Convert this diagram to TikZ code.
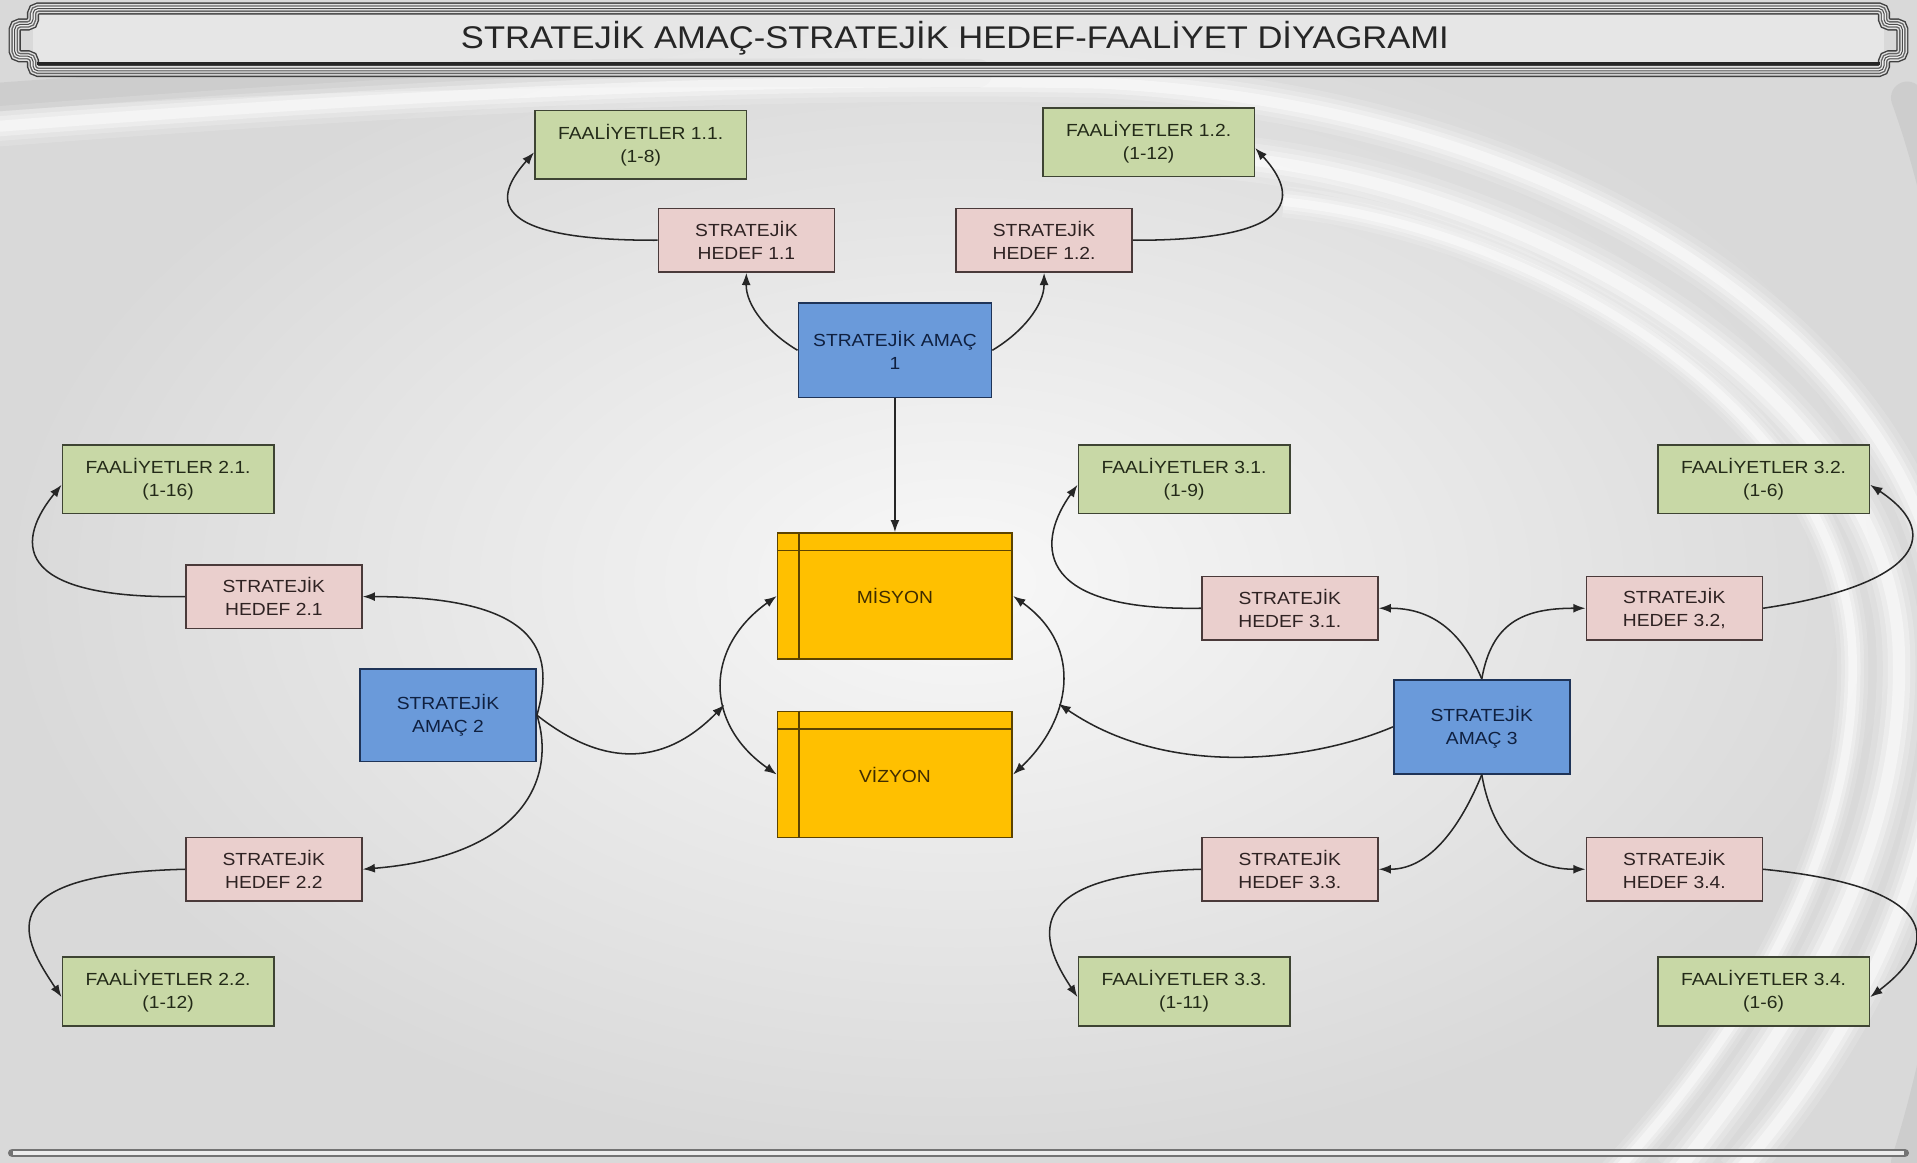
\documentclass[tikz,border=0pt]{standalone}
\usepackage{fontspec}
\setmainfont{Liberation Sans}[FakeStretch=1.1]
\usetikzlibrary{arrows.meta,calc}
\definecolor{bgIn}{HTML}{F8F8F8}
\definecolor{bgOut}{HTML}{D9D9D9}
\definecolor{cGreen}{HTML}{C8D8A6}
\definecolor{cGreenB}{HTML}{3E4433}
\definecolor{cGreenT}{HTML}{232A18}
\definecolor{cPink}{HTML}{EACFCD}
\definecolor{cPinkB}{HTML}{4A3A3A}
\definecolor{cPinkT}{HTML}{2E2222}
\definecolor{cBlue}{HTML}{6A9ADA}
\definecolor{cBlueB}{HTML}{1F3458}
\definecolor{cBlueT}{HTML}{0F2040}
\definecolor{cGold}{HTML}{FFC000}
\definecolor{cGoldB}{HTML}{5C4300}
\definecolor{cGoldT}{HTML}{3F2C00}
\tikzset{
  box/.style={line width=0.8pt, inner sep=0pt, align=center, font=\fontsize{8.6}{11.3}\selectfont},
  faal/.style={box, fill=cGreen, draw=cGreenB, text=cGreenT, minimum width=173*0.6pt, minimum height=56*0.6pt},
  hedef/.style={box, fill=cPink, draw=cPinkB, text=cPinkT, minimum width=144*0.6pt, minimum height=52*0.6pt},
  amac/.style={box, fill=cBlue, draw=cBlueB, text=cBlueT, minimum width=144*0.6pt, minimum height=77*0.6pt},
  core/.style={box, fill=cGold, draw=cGoldB, text=cGoldT, minimum width=192*0.6pt, minimum height=103*0.6pt},
  coreline/.style={draw=cGoldB, line width=0.8pt},
  conn/.style={draw=black!85, line width=0.75pt, -{Latex[length=6pt,width=4.4pt]}},
  bconn/.style={draw=black!85, line width=0.75pt, {Latex[length=6pt,width=4.4pt]}-{Latex[length=6pt,width=4.4pt]}},
  titletube/.style={preaction={draw=black!75, line width=6pt},
                    preaction={draw=gray!25, line width=4.6pt},
                    preaction={draw=black!60, line width=3.2pt},
                    preaction={draw=gray!15, line width=1.8pt},
                    draw=black!70, line width=0.5pt},
  softband/.style={line cap=round,
                   preaction={draw=white, opacity=.15, line width=#1*2.2},
                   preaction={draw=white, opacity=.2, line width=#1*1.6},
                   preaction={draw=white, opacity=.3, line width=#1*1.1},
                   draw=white, opacity=.45, line width=#1*0.6},
  greyband/.style={draw=black, opacity=.05, line width=#1, line cap=round}
}
\begin{document}
\begin{tikzpicture}[x=0.6pt,y=-0.6pt]
\useasboundingbox (0,0) rectangle (1568,951);
% background
\shade[inner color=bgIn, outer color=bgOut] (0,0) rectangle (1568,951);
\begin{scope}
\clip (0,0) rectangle (1568,951);
\draw[greyband=14pt] (-10,80) .. controls (250,60) and (500,58) .. (800,60);
\draw[greyband=16pt] (1560,80) .. controls (1640,300) and (1640,700) .. (1560,951);
\draw[softband=9pt] (-10,104) .. controls (300,80) and (600,62) .. (900,68) .. controls (1300,88) and (1590,300) .. (1592,530) .. controls (1595,720) and (1500,870) .. (1420,960);
\draw[softband=10pt] (1000,128) .. controls (1250,150) and (1545,320) .. (1553,530) .. controls (1560,700) and (1460,850) .. (1370,960);
\draw[softband=7pt] (1050,165) .. controls (1250,185) and (1505,330) .. (1515,530) .. controls (1522,690) and (1430,840) .. (1320,960);
\end{scope}
% title bar
\fill[white, opacity=.35] (27,7) rectangle (1541,58);
\draw[titletube, rounded corners=2.5pt] (27,7) -- (1541,7) -- (1541,20) -- (1556,20) -- (1556,46) -- (1541,46) -- (1541,58) -- (27,58) -- (27,46) -- (12,46) -- (12,20) -- (27,20) -- cycle;
\draw[black!85, line width=1.1pt] (30,52) -- (1538,52);
\node[anchor=base, font=\fontsize{15.4}{18}\selectfont, text=black!85] (title) at (781,40) {STRATEJİK AMAÇ-STRATEJİK HEDEF-FAALİYET DİYAGRAMI};
% bottom line
\draw[line width=4.2pt, black!55, line cap=round] (10,943) -- (1558,943);
\draw[line width=1.6pt, gray!15] (11,943) -- (1557,943);
% nodes
\node[faal] (f11) at (524,118.5) {FAALİYETLER 1.1.\\(1-8)};
\node[hedef] (h11) at (610.5,196.5) {STRATEJİK\\HEDEF 1.1};
\node[amac, minimum width=158*0.6pt] (a1) at (732,286.5) {STRATEJİK AMAÇ\\1};
\node[hedef] (h12) at (854,196.5) {STRATEJİK\\HEDEF 1.2.};
\node[faal] (f12) at (939.5,116.5) {FAALİYETLER 1.2.\\(1-12)};
\node[core] (mis) at (732,487.5) {MİSYON};
\node[core] (viz) at (732,633.5) {VİZYON};
\draw[coreline] ($(mis.north west)+(18,0)$) -- ($(mis.south west)+(18,0)$);
\draw[coreline] ($(mis.north west)+(0,15)$) -- ($(mis.north east)+(0,15)$);
\draw[coreline] ($(viz.north west)+(18,0)$) -- ($(viz.south west)+(18,0)$);
\draw[coreline] ($(viz.north west)+(0,15)$) -- ($(viz.north east)+(0,15)$);
\node[faal] (f21) at (137.5,392) {FAALİYETLER 2.1.\\(1-16)};
\node[hedef] (h21) at (224,488) {STRATEJİK\\HEDEF 2.1};
\node[amac, minimum height=76*0.6pt] (a2) at (366.5,585) {STRATEJİK\\AMAÇ 2};
\node[hedef] (h22) at (224,711) {STRATEJİK\\HEDEF 2.2};
\node[faal] (f22) at (137.5,811) {FAALİYETLER 2.2.\\(1-12)};
\node[faal] (f31) at (968.5,392) {FAALİYETLER 3.1.\\(1-9)};
\node[hedef] (h31) at (1055,497.5) {STRATEJİK\\HEDEF 3.1.};
\node[amac] (a3) at (1212,594.5) {STRATEJİK\\AMAÇ 3};
\node[hedef] (h32) at (1369.5,497.5) {STRATEJİK\\HEDEF 3.2,};
\node[faal] (f32) at (1442.5,392) {FAALİYETLER 3.2.\\(1-6)};
\node[hedef] (h33) at (1055,711) {STRATEJİK\\HEDEF 3.3.};
\node[hedef] (h34) at (1369.5,711) {STRATEJİK\\HEDEF 3.4.};
\node[faal] (f33) at (968.5,811) {FAALİYETLER 3.3.\\(1-11)};
\node[faal] (f34) at (1442.5,811) {FAALİYETLER 3.4.\\(1-6)};
% connectors
\draw[conn] (a1.south) -- (mis.north);
\draw[conn] (a1.west) .. controls (628,272) and (610,250) .. (h11.south);
\draw[conn] (a1.east) .. controls (836,272) and (854,250) .. (h12.south);
\draw[conn] (h11.west) .. controls (385,197) and (410,155) .. (f11.184);
\draw[conn] (h12.east) .. controls (1080,197) and (1054,151) .. (f12.-3);
\draw[conn] (a2.east) .. controls (452,540) and (450,488) .. (h21.east);
\draw[conn] (a2.east) .. controls (455,635) and (430,700) .. (h22.east);
\draw[conn] (h21.west) .. controls (5,490) and (15,440) .. (f21.183);
\draw[conn] (h22.west) .. controls (-15,715) and (20,770) .. (f22.183);
\draw[bconn] (mis.west) .. controls (576,530) and (576,592) .. (viz.west) coordinate[pos=0.6] (lmid);
\draw[bconn] (mis.east) .. controls (888,530) and (875,590) .. (viz.east) coordinate[pos=0.6] (rmid);
\draw[conn] (a2.east) .. controls (490,625) and (540,630) .. (lmid);
\draw[conn] (a3.west) .. controls (1080,620) and (960,640) .. (rmid);
\draw[conn] (a3.north) .. controls (1195,515) and (1170,497.5) .. (h31.east);
\draw[conn] (a3.north) .. controls (1220,510) and (1245,497.5) .. (h32.west);
\draw[conn] (a3.south) .. controls (1195,675) and (1170,711) .. (h33.east);
\draw[conn] (a3.south) .. controls (1220,680) and (1245,711) .. (h34.west);
\draw[conn] (h31.west) .. controls (840,500) and (850,440) .. (f31.183);
\draw[conn] (h32.east) .. controls (1560,480) and (1595,440) .. (f32.-3);
\draw[conn] (h33.west) .. controls (830,715) and (851,770) .. (f33.183);
\draw[conn] (h34.east) .. controls (1585,725) and (1590,770) .. (f34.-3);
\end{tikzpicture}
\end{document}
